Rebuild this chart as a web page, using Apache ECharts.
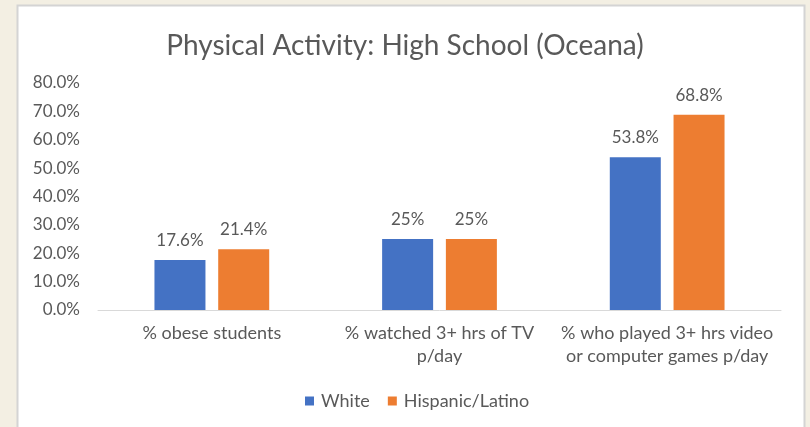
<!DOCTYPE html>
<html>
<head>
<meta charset="utf-8">
<script src="https://cdn.jsdelivr.net/npm/echarts@6/dist/echarts.min.js"></script>
<style>
  html, body { margin: 0; padding: 0; background: #f3efe3; }
  #chart { width: 810px; height: 427px; }
</style>
</head>
<body>
<div id="chart"></div>
<script>
// Survey categories (line breaks as they wrap under the axis)
const categories = [
  '% obese students',
  '% watched 3+ hrs of TV\np/day',
  '% who played 3+ hrs video\nor computer games p/day'
];
const whiteValues = [17.6, 25, 53.8];
const hispanicValues = [21.4, 25, 68.8];
const seriesNames = ['White', 'Hispanic/Latino'];
const yTicks = { min: 0, max: 80, step: 10 };

const FONT = 'Lato, "Open Sans", sans-serif';
const TEXT = '#595959';

function pct(v) {
  return Number.isInteger(v) ? v + '%' : v.toFixed(1) + '%';
}

const chart = echarts.init(document.getElementById('chart'), null, { renderer: 'canvas' });
chart.setOption({
  backgroundColor: '#f3efe3',
  textStyle: { fontFamily: FONT },
  graphic: [{
    type: 'rect',
    z: -10,
    shape: { x: 17.5, y: 5.5, width: 787, height: 430 },
    style: { fill: '#ffffff', stroke: '#d4d4d4', lineWidth: 2 }
  }],
  title: {
    text: 'Physical Activity: High School (Oceana)',
    left: 'center',
    top: 27,
    textStyle: { fontFamily: FONT, fontSize: 28, fontWeight: 'normal', color: TEXT }
  },
  legend: {
    data: seriesNames,
    bottom: 12,
    left: 300,
    itemWidth: 9,
    itemHeight: 9,
    itemGap: 18,
    icon: 'rect',
    textStyle: { fontFamily: FONT, fontSize: 18, color: TEXT, padding: [0, 0, 0, 2] }
  },
  grid: { left: 98, right: 29, top: 83, bottom: 117 },
  xAxis: {
    type: 'category',
    data: categories,
    axisLine: { lineStyle: { color: '#d9d9d9', width: 1 } },
    axisTick: { show: false },
    axisLabel: {
      fontFamily: FONT, fontSize: 18, color: TEXT,
      margin: 12, lineHeight: 23, interval: 0
    }
  },
  yAxis: {
    type: 'value',
    min: yTicks.min,
    max: yTicks.max,
    interval: yTicks.step,
    splitLine: { show: false },
    axisLine: { show: false },
    axisTick: { show: false },
    axisLabel: {
      fontFamily: FONT, fontSize: 17, color: TEXT, margin: 18,
      formatter: v => v.toFixed(1) + '%'
    }
  },
  series: [
    {
      name: seriesNames[0],
      type: 'bar',
      data: whiteValues,
      barWidth: 51,
      barGap: '25%',
      itemStyle: { color: '#4472c4' },
      label: {
        show: true, position: 'top', distance: 11,
        fontFamily: FONT, fontSize: 17, color: TEXT,
        formatter: p => pct(p.value)
      }
    },
    {
      name: seriesNames[1],
      type: 'bar',
      data: hispanicValues,
      barWidth: 51,
      barGap: '25%',
      itemStyle: { color: '#ed7d31' },
      label: {
        show: true, position: 'top', distance: 11,
        fontFamily: FONT, fontSize: 17, color: TEXT,
        formatter: p => pct(p.value)
      }
    }
  ]
});
</script>
</body>
</html>
